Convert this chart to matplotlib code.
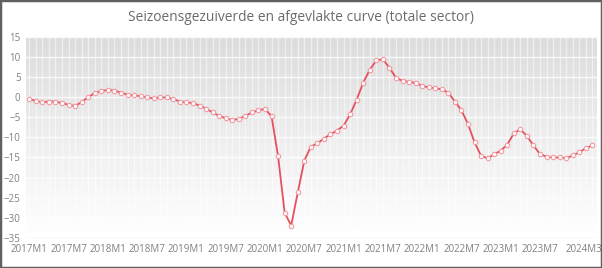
import numpy as np
import matplotlib.pyplot as plt
import matplotlib.transforms as mtransforms
from matplotlib.patches import Rectangle

# monthly values 2017M1 .. 2024M3
months = [f"{y}M{m}" for y in range(2017, 2025) for m in range(1, 13)][:87]
values = [
    -0.4, -1.0, -1.25, -1.1, -1.1, -1.5, -1.9, -2.2, -1.25, 0.0, 1.0, 1.5,
    1.75, 1.6, 1.1, 0.6, 0.4, 0.25, -0.1, -0.3, -0.1, -0.1, -0.5, -1.1,
    -1.3, -1.5, -2.1, -2.9, -3.8, -4.7, -5.25, -5.7, -5.4, -4.7, -3.8, -3.3,
    -2.9, -4.8, -14.75, -28.75, -31.9, -23.7, -15.8, -12.3, -11.5, -10.3, -9.25, -8.3,
    -7.1, -4.3, -0.6, 3.6, 6.8, 9.1, 9.4, 7.3, 4.8, 4.0, 3.8, 3.5,
    2.8, 2.4, 2.2, 1.9, 1.1, -1.1, -3.3, -6.7, -11.25, -14.6, -15.2, -14.2,
    -13.3, -11.8, -9.0, -8.0, -9.7, -12.0, -14.2, -14.8, -15.0, -15.0, -15.2, -14.5,
    -13.7, -12.7, -12.0,
]
tick_idx = list(range(0, 84, 6)) + [86]
yticks = list(range(-35, 20, 5))

title = "Seizoensgezuiverde en afgevlakte curve (totale sector)"

plt.rcParams['font.family'] = ['Open Sans', 'DejaVu Sans']
fig = plt.figure(figsize=(6.02, 2.68), dpi=100)
fig.patch.set_facecolor('white')
fig.patches.append(Rectangle((0, 0), 1, 1, transform=fig.transFigure, fill=False,
                             edgecolor='#606060', linewidth=2.5))
ax = fig.add_axes([0.0432, 0.112, 0.9485, 0.751])

x = np.arange(len(values))
xmin, xmax = -0.5, 86.7
ymin, ymax = -35, 15

# light at the bottom, grey at the top
grad = np.linspace(1.0, 0.86, 256).reshape(-1, 1)
ax.imshow(grad, cmap='gray', vmin=0, vmax=1, aspect='auto',
          extent=[xmin, xmax, ymin, ymax], zorder=0, origin='lower')

for i in x:
    ax.axvline(i, color='white', lw=0.9, alpha=0.55, zorder=1)
for yv in yticks[1:]:
    ax.axhline(yv, color='white', lw=1.0, alpha=0.8, zorder=1)
ax.axhline(-35, color='#e2e2e2', lw=1.0, zorder=1)

ax.plot(x, values, color='#e5505d', lw=1.3, zorder=3,
        marker='o', markersize=3.2, markerfacecolor='white',
        markeredgecolor='#f19aa1', markeredgewidth=0.8)

ax.set_xlim(xmin, xmax)
ax.set_ylim(ymin, ymax)
ax.set_yticks(yticks)
ax.set_xticks(tick_idx)
ax.set_xticklabels([months[i] for i in tick_idx])
ax.tick_params(axis='both', length=0, labelsize=7, labelcolor='#808080', pad=4)
last = ax.get_xticklabels()[-1]
last.set_transform(last.get_transform() + mtransforms.ScaledTranslation(-0.08, 0, fig.dpi_scale_trans))
for s in ax.spines.values():
    s.set_visible(False)

fig.text(0.5, 0.933, title, ha='center', va='center', fontsize=9.9, color='#6b6b6b')

fig.savefig('out.png', dpi=100)
